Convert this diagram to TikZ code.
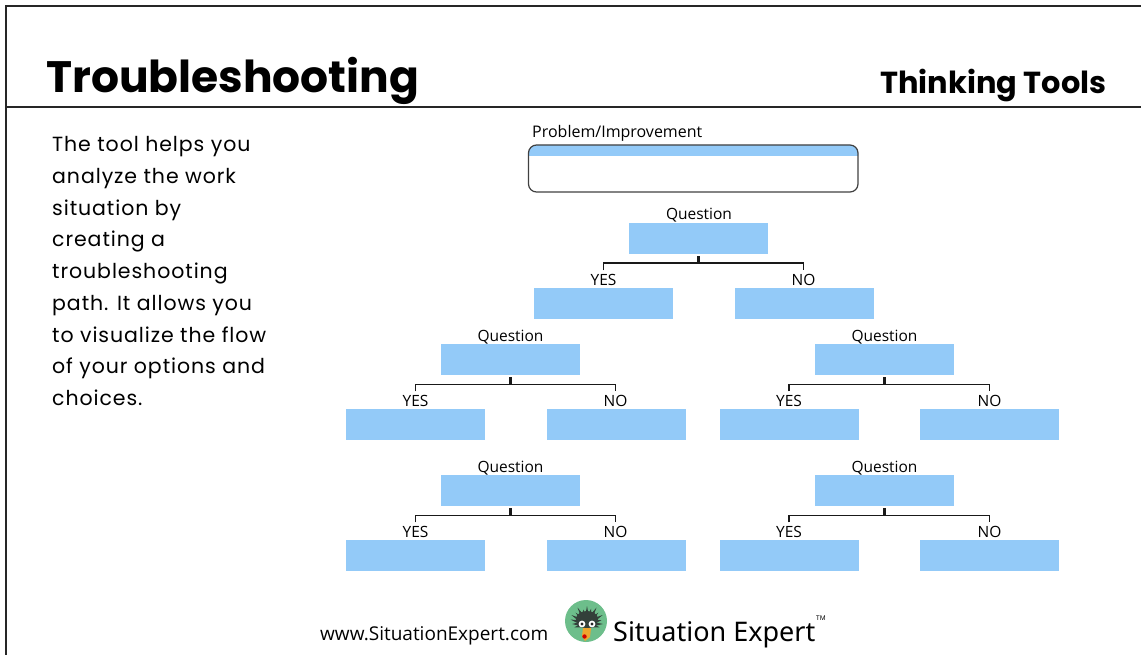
\documentclass[tikz,border=0pt]{standalone}
\usepackage{fontspec}
\usetikzlibrary{calc}
\setmainfont{Poppins}
\newfontfamily\lab{Open Sans}
\newfontfamily\logofont{Noto Sans}
\definecolor{boxblue}{HTML}{93CAF8}
\definecolor{logogreen}{HTML}{6DBE8B}
\definecolor{spike}{HTML}{33403A}
\definecolor{beak}{HTML}{EFA52E}
\tikzset{
  x=1pt,y=-1pt,
  bluebox/.style={fill=boxblue,draw=none,minimum width=139pt,minimum height=31pt,inner sep=0pt},
  lbl/.style={font=\lab\fontsize{15.5}{17}\selectfont,inner sep=0pt,text height=11pt,text depth=1pt,text=black},
  conn/.style={draw=black!90,line width=1.4pt},
  stem/.style={draw=black!90,line width=2.6pt},
  frameline/.style={draw=black!85,line width=2pt},
}
\begin{document}
\begin{tikzpicture}
\useasboundingbox (0,0) rectangle (1141,655);
\coordinate (fa) at (5.5,655); \coordinate (fb) at (5.5,6.5); \coordinate (fc) at (1141,6.5);
\coordinate (ha) at (5.5,107); \coordinate (hb) at (1141,107);
\draw[frameline] (fa) -- (fb) -- (fc);
\draw[frameline] (ha) -- (hb);
\node[anchor=base west,inner sep=0pt,font=\fontsize{44}{48}\selectfont\bfseries] (title) at (46,92.5) {Troubleshooting};
\node[anchor=base east,inner sep=0pt,font=\fontsize{30.4}{34}\selectfont\bfseries] (sub) at (1106.5,94) {Thinking Tools};
\node[anchor=north west,inner sep=0pt,align=left,font=\fontsize{20.5}{31.7}\selectfont\addfontfeature{LetterSpace=4.5}] (body) at (52,136.5)
{The tool helps you\\analyze the work\\situation by\\creating a\\troubleshooting\\path. It allows you\\to visualize the flow\\of your options and\\choices.};
% problem box
\node[lbl,anchor=west,font=\lab\fontsize{16}{18}\selectfont] (pl) at (532,132.5) {Problem/Improvement};
\begin{scope}
\path[clip] (528.5,145) rectangle (858,156);
\fill[boxblue,rounded corners=8pt] (528.5,145) rectangle (858,192);
\end{scope}
\draw[draw=black!75,line width=1.2pt,rounded corners=8pt] (528.5,145) rectangle (858,192);
% root
\node[bluebox] (rq) at (698.5,238.5) {};
\node[lbl] (rql) at (699,215) {Question};
\node[bluebox] (ry) at (603.5,303.5) {};
\node[bluebox] (rn) at (804.5,303.5) {};
\node[lbl] (ryl) at (603.5,280) {YES};
\node[lbl] (rnl) at (803.5,280) {NO};
\draw[stem,shorten <=2pt] (rq.south) -- ++(0,9) coordinate (rj);
\draw[conn,shorten <=3.5pt,shorten >=3.5pt] (ryl.north) |- (rj) -| (rnl.north);
% second row and third row
\foreach \pre/\qx/\yx/\nx/\nb/\top in {a/510.5/415.5/615.5/616/344, b/884.5/789/989.5/989.5/344, c/510.5/415.5/615.5/616/475, d/884.5/789/989.5/989.5/475}{
  \node[bluebox] (\pre q) at (\qx,\top+15.5) {};
  \node[lbl] (\pre ql) at (\qx,\top-8) {Question};
  \node[bluebox] (\pre y) at (\yx,\top+80.5) {};
  \node[bluebox] (\pre n) at (\nb,\top+80.5) {};
  \node[lbl] (\pre yl) at (\yx,\top+57) {YES};
  \node[lbl] (\pre nl) at (\nx,\top+57) {NO};
  \draw[stem,shorten <=2pt] (\pre q.south) -- ++(0,9) coordinate (\pre j);
  \draw[conn,shorten <=3.5pt,shorten >=3.5pt] (\pre yl.north) |- (\pre j) -| (\pre nl.north);
}
% footer
\node[anchor=base west,inner sep=0pt,text=black,font=\lab\fontsize{19}{22}\selectfont] (url) at (320,640) {www.SituationExpert.com};
\node[anchor=base west,inner sep=0pt,text=black,font=\logofont\fontsize{27}{32}\selectfont] (brand) at (613,641) {Situation Expert};
\node[anchor=base west,inner sep=0pt,text=black,font=\logofont\fontsize{6.5}{8}\selectfont] (tm) at (816,620) {TM};
% logo
\fill[logogreen] (586,621) circle (21);
\foreach \a/\r in {180/15,195/17,165/13,210/18,225/16,240/19,255/15,270/18,285/16,300/19,315/16,330/18,345/15,360/16,15/13}{
  \fill[spike] ($(587,624)+(\a-30:5)$) -- ($(587,624)+(\a:\r)$) -- ($(587,624)+(\a+30:5)$) -- cycle;
}
\fill[spike] (587,619) ellipse (11 and 8);
\fill[spike] (587,623) ellipse (10 and 5);
\fill[white] (582,624) circle (3.4);
\fill[white] (592,624) circle (3.4);
\fill[black!85] (582,624) circle (1.7);
\fill[black!85] (592,624) circle (1.7);
\fill[beak] (583,628) -- (591,628) -- (590,637) -- (585,641) -- (582,636) -- cycle;
\fill[red!80!black] (584.5,636.5) circle (2.2);
\end{tikzpicture}
\end{document}
